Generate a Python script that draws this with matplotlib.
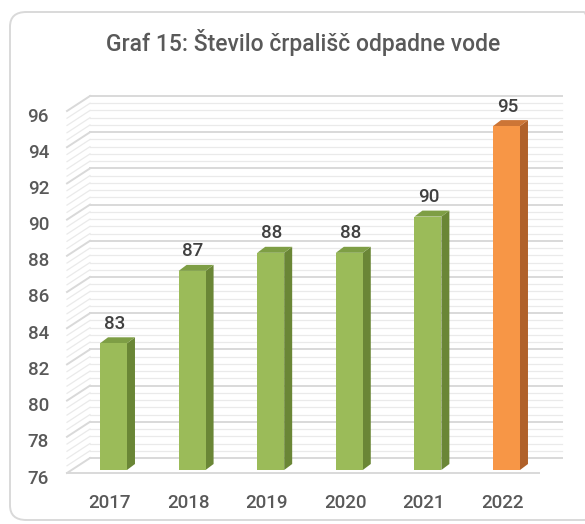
import numpy as np
import matplotlib
matplotlib.use("Agg")
import matplotlib.pyplot as plt
from matplotlib.patches import Polygon, Rectangle, FancyBboxPatch
from matplotlib.lines import Line2D

# ---------------- data ----------------
title = "Graf 15: Število črpališč odpadne vode"
years = ["2017", "2018", "2019", "2020", "2021", "2022"]
values = [83, 87, 88, 88, 90, 95]
y_ticks = list(range(76, 97, 2))
y_min, y_max = 76, 96

# ---------------- style ----------------
front_cols = ["#9BBB59"] * 5 + ["#F79646"]
side_cols = ["#6A8636"] * 5 + ["#B0612A"]
top_cols = ["#7E9E45"] * 5 + ["#CC7536"]
txt_col = "#595959"
lab_col = "#404040"
major_col = "#D9D9D9"
minor_col = "#EAEAEA"
font_main = ["Roboto", "DejaVu Sans"]

W, H = 585, 524
fig = plt.figure(figsize=(W / 100, H / 100), dpi=100)
fig.patch.set_facecolor("white")

# outer rounded border
border = FancyBboxPatch((10 / W, 4 / H), 590 / W, 508 / H,
                        boxstyle="round,pad=0,rounding_size=0.028",
                        transform=fig.transFigure, fill=False,
                        edgecolor="#D9D9D9", linewidth=1.4)
fig.patches.append(border)

# axes: x in category units, y in value units (bar-front plane)
ax_l, ax_r = 66.34, 553.66
ax_b, ax_t = 54, 416
ax = fig.add_axes([ax_l / W, ax_b / H, (ax_r - ax_l) / W, (ax_t - ax_b) / H])
ax.set_xlim(-0.6, 5.6)
ax.set_ylim(y_min, y_max)
ax.axis("off")

PX = 6.2 / (ax_r - ax_l)          # x units per pixel
PY = (y_max - y_min) / (ax_t - ax_b)  # y units per pixel

# wall planes (pixel offsets relative to bar-front plane)
fx, fy = -4.6, -3.0
bx, by = 18.4, 12.0
xw0, xw1 = -0.533, 5.47

def wall_line(v, col, lw):
    # back wall
    ax.add_line(Line2D([xw0 + bx * PX, xw1 + bx * PX], [v + by * PY, v + by * PY],
                       color=col, lw=lw, clip_on=False, zorder=1))
    # side wall
    ax.add_line(Line2D([xw0 + fx * PX, xw0 + bx * PX], [v + fy * PY, v + by * PY],
                       color=col, lw=lw, clip_on=False, zorder=1))

minor_vals = [v for v in np.arange(y_min, y_max + 0.001, 0.4)
              if abs(v - round(v)) > 1e-6 or int(round(v)) % 2 == 1]
for v in minor_vals:
    wall_line(v, minor_col, 0.9)
for v in y_ticks:
    wall_line(v, major_col, 1.4)

# floor front edge
ax.add_line(Line2D([xw0 + fx * PX, xw1 + fx * PX], [y_min + fy * PY, y_min + fy * PY],
                   color=major_col, lw=1.4, clip_on=False, zorder=1))

# bars
bw = 0.343
ddx, ddy = 8 * PX, 6 * PY
for i, v in enumerate(values):
    x0, x1 = i - bw / 2, i + bw / 2
    ax.add_patch(Polygon([(x1, y_min), (x1 + ddx, y_min + ddy), (x1 + ddx, v + ddy), (x1, v)],
                         closed=True, facecolor=side_cols[i], edgecolor="none", zorder=3))
    ax.add_patch(Polygon([(x0, v), (x1, v), (x1 + ddx, v + ddy), (x0 + ddx, v + ddy)],
                         closed=True, facecolor=top_cols[i], edgecolor="none", zorder=3))
    ax.add_patch(Rectangle((x0, y_min), bw, v - y_min, facecolor=front_cols[i],
                           edgecolor="none", zorder=4))
    ax.text(i + 1 * PX, v + 19.5 * PY, str(v), ha="center", va="center",
            fontsize=13.5, color=lab_col, family=font_main, weight="medium", clip_on=False)

# y tick labels
for v in y_ticks:
    ax.text(-0.82, v - 8.5 * PY, str(v), ha="right", va="center",
            fontsize=13.5, color=txt_col, family=font_main, weight="medium", clip_on=False)

# x labels
for i, yr in enumerate(years):
    ax.text(i - 4 * PX, y_min - 33 * PY, yr, ha="center", va="center",
            fontsize=13.5, color=txt_col, family=font_main, weight="medium", clip_on=False)

fig.text(303.5 / W, 1 - 42 / H, title, ha="center", va="center",
         fontsize=16.5, color=txt_col, family=font_main, weight="medium")

fig.savefig("out.png", dpi=100)
